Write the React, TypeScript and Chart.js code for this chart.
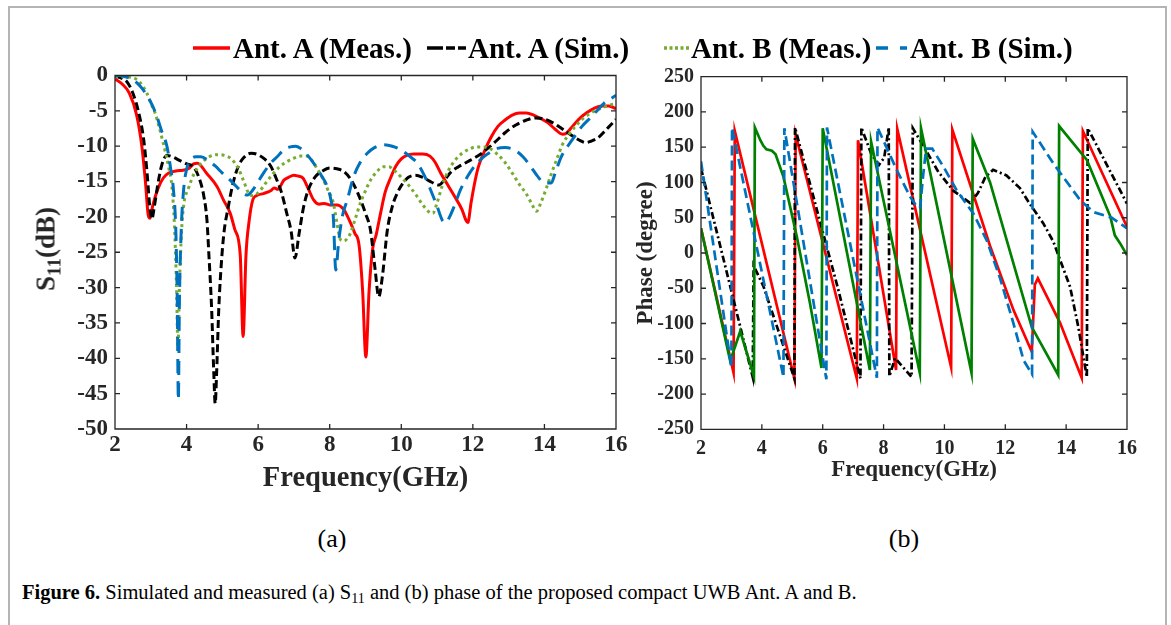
import React, { useEffect, useRef } from 'react';
import { Chart, registerables } from 'chart.js';

Chart.register(...registerables);

// ---------- tick labels ----------
const FREQ_TICKS = [2, 4, 6, 8, 10, 12, 14, 16];
const S11_TICKS = [0, -5, -10, -15, -20, -25, -30, -35, -40, -45, -50];
const PHASE_TICKS = [250, 200, 150, 100, 50, 0, -50, -100, -150, -200, -250];

const LEGEND_LABELS = ['Ant. A (Meas.)', 'Ant. A (Sim.)', 'Ant. B (Meas.)', 'Ant. B (Sim.)'];

// ---------- (a) S11 data ----------
const antAMeasS11Freq = [2.0, 2.2, 2.4, 2.6, 2.75, 2.85, 2.93, 2.98, 3.05, 3.2, 3.35, 3.5, 3.7, 3.9, 4.05, 4.2, 4.3, 4.57, 4.85, 5.03, 5.22, 5.35, 5.5, 5.58, 5.66, 5.75, 5.85, 5.95, 6.15, 6.35, 6.45, 6.55, 6.72, 6.85, 7.0, 7.1, 7.25, 7.4, 7.55, 7.7, 7.85, 8.0, 8.2, 8.4, 8.55, 8.7, 8.82, 8.92, 9.01, 9.1, 9.2, 9.3, 9.42, 9.55, 9.7, 9.85, 10.0, 10.15, 10.35, 10.6, 10.8, 10.95, 11.1, 11.3, 11.5, 11.7, 11.8, 11.86, 11.95, 12.05, 12.15, 12.3, 12.5, 12.7, 12.9, 13.1, 13.3, 13.5, 13.7, 13.9, 14.1, 14.3, 14.5, 14.6, 14.8, 15.0, 15.2, 15.4, 15.6, 15.8, 16.0];
const antAMeasS11 = [-0.5, -1.2, -2.5, -5.5, -10, -15, -19.8, -20.2, -18.5, -16, -14.5, -13.8, -13.5, -13.4, -13.2, -12.5, -12.4, -13.9, -15.7, -17.6, -19.5, -21.8, -25.4, -36.9, -25.4, -20.5, -17.6, -17.0, -16.7, -16.3, -15.9, -16.1, -14.8, -14.4, -14.1, -14.2, -14.5, -16.0, -17.6, -18.2, -18.1, -18.3, -18.3, -19.0, -20.5, -22.3, -24.0, -30.5, -39.8, -30.5, -24.5, -22.5, -19.5, -16.5, -14.5, -12.8, -11.8, -11.3, -11.1, -11.1, -11.4, -12.3, -13.8, -15.5, -17.2, -19.0, -20.4, -20.8, -18.0, -15.2, -13.0, -11.0, -8.8, -7.2, -6.3, -5.6, -5.3, -5.3, -5.6, -6.1, -6.7, -7.6, -8.3, -8.2, -7.1, -6.0, -5.2, -4.6, -4.3, -4.3, -4.7];

const antASimS11Freq = [2.0, 2.2, 2.35, 2.5, 2.65, 2.8, 2.9, 2.97, 3.03, 3.1, 3.2, 3.3, 3.45, 3.6, 3.8, 4.0, 4.19, 4.35, 4.48, 4.57, 4.62, 4.7, 4.76, 4.8, 4.84, 4.9, 4.98, 5.05, 5.15, 5.3, 5.45, 5.6, 5.8, 5.95, 6.15, 6.35, 6.5, 6.65, 6.8, 6.92, 7.03, 7.14, 7.27, 7.4, 7.6, 7.8, 8.0, 8.2, 8.4, 8.6, 8.8, 9.0, 9.14, 9.27, 9.37, 9.47, 9.61, 9.75, 9.9, 10.05, 10.2, 10.4, 10.6, 10.85, 11.05, 11.2, 11.4, 11.6, 11.85, 12.1, 12.3, 12.6, 12.9, 13.2, 13.5, 13.75, 13.95, 14.2, 14.4, 14.6, 14.8, 15.0, 15.15, 15.3, 15.5, 15.7, 15.85, 16.0];
const antASimS11 = [-0.1, -0.4, -1.0, -2.5, -5.0, -9.0, -14.0, -18.5, -20.3, -18.5, -15.3, -12.8, -11.3, -11.5, -12.0, -12.5, -12.9, -14.5, -17.0, -20.5, -25.0, -33.0, -42.0, -46.4, -42.0, -33.0, -26.0, -22.0, -19.0, -15.2, -12.8, -11.6, -11.0, -11.1, -11.7, -12.8, -14.5, -16.5, -19.5, -22.0, -25.8, -22.5, -18.6, -16.2, -14.3, -13.5, -13.1, -13.2, -13.6, -14.8, -16.8, -19.5, -21.9, -27.5, -31.3, -28.5, -21.9, -18.5, -16.5, -15.2, -14.4, -14.1, -14.4, -15.1, -15.5, -14.8, -13.6, -12.9, -12.2, -11.5, -10.8, -9.5, -8.1, -7.0, -6.3, -6.0, -6.1, -6.6, -7.2, -7.9, -8.6, -9.2, -9.5, -9.3, -8.8, -7.8, -7.0, -6.2];

const antBMeasS11Freq = [2.0, 2.3, 2.5, 2.7, 2.89, 3.05, 3.12, 3.25, 3.35, 3.5, 3.59, 3.66, 3.72, 3.76, 3.8, 3.86, 3.93, 4.05, 4.2, 4.38, 4.6, 4.85, 5.05, 5.25, 5.45, 5.6, 5.75, 5.85, 6.0, 6.2, 6.4, 6.6, 6.8, 7.0, 7.2, 7.35, 7.5, 7.65, 7.8, 7.95, 8.1, 8.2, 8.3, 8.4, 8.5, 8.58, 8.7, 8.86, 9.0, 9.14, 9.3, 9.5, 9.65, 9.8, 10.0, 10.2, 10.4, 10.6, 10.8, 10.88, 11.0, 11.15, 11.3, 11.5, 11.7, 11.9, 12.1, 12.3, 12.5, 12.7, 12.9, 13.1, 13.3, 13.5, 13.65, 13.78, 13.9, 14.05, 14.2, 14.37, 14.5, 14.7, 14.9, 15.1, 15.3, 15.5, 15.7, 15.9, 16.0];
const antBMeasS11 = [-0.1, -0.2, -0.3, -1.0, -2.5, -4.5, -5.3, -7.6, -9.6, -13.0, -15.7, -21.0, -30.0, -38.8, -30.0, -22.0, -18.0, -16.0, -14.0, -12.6, -11.6, -11.2, -11.3, -11.8, -13.2, -15.0, -16.8, -17.0, -16.6, -15.3, -14.0, -12.9, -12.2, -11.7, -11.4, -11.4, -12.0, -13.2, -14.5, -16.2, -18.0, -20.8, -23.2, -23.4, -23.0, -22.3, -20.5, -18.0, -16.3, -14.8, -13.7, -12.9, -12.9, -13.4, -14.4, -15.5, -16.8, -18.3, -19.4, -19.5, -18.0, -15.5, -13.6, -12.0, -11.0, -10.4, -10.1, -10.1, -10.4, -11.2, -12.3, -13.8, -15.4, -16.8, -18.2, -19.2, -18.0, -16.0, -13.8, -11.5, -9.8, -8.2, -7.0, -6.0, -5.3, -4.8, -4.4, -4.1, -4.0];

const antBSimS11Freq = [2.0, 2.14, 2.3, 2.5, 2.7, 2.89, 3.05, 3.17, 3.3, 3.45, 3.55, 3.63, 3.7, 3.74, 3.77, 3.8, 3.85, 3.92, 4.0, 4.1, 4.25, 4.4, 4.6, 4.8, 5.0, 5.22, 5.45, 5.6, 5.7, 5.85, 6.0, 6.15, 6.35, 6.53, 6.7, 6.9, 7.05, 7.18, 7.35, 7.55, 7.75, 7.93, 8.03, 8.1, 8.17, 8.25, 8.35, 8.49, 8.67, 8.85, 9.05, 9.25, 9.5, 9.75, 9.98, 10.2, 10.45, 10.65, 10.82, 11.0, 11.15, 11.25, 11.35, 11.47, 11.65, 11.85, 12.05, 12.3, 12.5, 12.69, 12.9, 13.15, 13.4, 13.62, 13.8, 14.0, 14.19, 14.3, 14.47, 14.65, 14.83, 15.05, 15.3, 15.5, 15.67, 15.85, 16.0];
const antBSimS11 = [0.0, 0.0, -0.2, -0.6, -1.5, -2.8, -4.3, -5.8, -7.8, -10.0, -13.0, -16.0, -22.0, -32.0, -45.9, -32.0, -22.0, -16.0, -13.3, -12.0, -11.5, -11.5, -12.0, -12.8, -13.8, -14.8, -16.0, -16.7, -16.9, -16.2, -15.0, -13.8, -12.4, -11.5, -10.6, -10.1, -10.0, -10.3, -11.1, -12.4, -14.0, -15.7, -17.5, -20.0, -27.5, -23.5, -20.0, -17.6, -14.3, -12.3, -11.0, -10.2, -9.8, -10.0, -10.5, -11.3, -12.4, -14.2, -16.2, -18.5, -20.5, -20.8, -20.0, -18.6, -16.2, -14.3, -12.8, -11.5, -10.8, -10.3, -10.2, -10.5, -11.5, -12.9, -14.2, -15.2, -15.2, -13.8, -11.5, -10.0, -8.7, -7.2, -5.9, -4.8, -3.9, -3.3, -2.8];

// ---------- (b) phase data ----------
const antAMeasPhaseFreq = [2.0, 3.07, 3.11, 5.07, 5.11, 7.12, 7.16, 8.41, 8.45, 10.22, 10.26, 11.5, 12.27, 12.87, 12.97, 13.07, 13.8, 14.51, 14.55, 16.0];
const antAMeasPhase = [35, -170, 173, -178, 168, -178, 160, -166, 176, -162, 175, 10, -81, -140, -45, -36, -99, -177, 173, 37];

const antASimPhaseFreq = [2.0, 3.7, 3.73, 4.05, 5.07, 5.09, 5.81, 6.5, 7.24, 7.27, 7.6, 7.85, 8.02, 8.17, 8.19, 8.38, 8.92, 8.96, 9.4, 9.8, 10.3, 10.84, 11.1, 11.35, 11.6, 12.04, 12.48, 12.8, 13.25, 13.58, 14.13, 14.4, 14.68, 14.71, 16.0];
const antASimPhase = [120, -176, -18, -47, -178, 178, 61, -50, -178, 178, 140, 125, 135, 178, -175, -149, -176, 177, 145, 115, 88, 71, 85, 108, 118, 110, 92, 70, 42, 16, -48, -105, -176, 177, 70];

const antBMeasPhaseFreq = [2.0, 2.96, 3.29, 3.74, 3.77, 3.95, 4.05, 4.15, 4.33, 4.45, 4.71, 5.15, 5.58, 5.96, 6.0, 7.55, 7.59, 9.19, 9.23, 10.89, 10.93, 11.5, 12.87, 13.74, 13.77, 14.68, 15.45, 15.6, 15.77, 16.0];
const antBMeasPhase = [35, -153, -111, -175, 178, 160, 152, 147, 145, 140, 108, 23, -71, -163, 177, -166, 158, -170, 177, -170, 162, 100, -105, -173, 180, 132, 52, 25, 14, -3];

const antBSimPhaseFreq = [2.0, 3.0, 3.02, 4.71, 4.74, 6.12, 6.14, 7.78, 7.8, 8.43, 8.87, 9.1, 9.2, 9.3, 9.4, 9.6, 10.0, 10.4, 10.95, 11.39, 11.83, 12.27, 12.6, 12.88, 12.9, 13.58, 14.46, 14.9, 15.5, 16.0];
const antBSimPhase = [130, -162, 178, -176, 177, -179, 178, -177, 178, 118, 80, 65, 64, 110, 148, 148, 120, 89, 56, 18, -36, -100, -152, -172, 172, 127, 75, 58, 50, 35];

// ---------- styles ----------
const AXIS_COLOR = '#262626';
const RED = '#FF0000';
const BLACK = '#000000';
const GREEN_A = '#77AC30';
const GREEN_B = '#008000';
const BLUE = '#0072BD';
const SERIF = "'Liberation Serif', 'Times New Roman', serif";

const pts = (fs: number[], vs: number[]) => fs.map((f, i) => ({ x: f, y: vs[i] }));

const framePlugin = {
  id: 'matlabFrame',
  afterDatasetsDraw(chart: any, _args: any, opts: any) {
    const { ctx, chartArea: a, scales } = chart;
    const len = opts.tickLen ?? 5;
    ctx.save();
    ctx.strokeStyle = AXIS_COLOR;
    ctx.lineWidth = opts.lineWidth ?? 1.3;
    ctx.beginPath();
    ctx.rect(a.left, a.top, a.right - a.left, a.bottom - a.top);
    scales.x.ticks.forEach((t: any) => {
      const px = scales.x.getPixelForValue(t.value);
      ctx.moveTo(px, a.bottom);
      ctx.lineTo(px, a.bottom - len);
      ctx.moveTo(px, a.top);
      ctx.lineTo(px, a.top + len);
    });
    scales.y.ticks.forEach((t: any) => {
      const py = scales.y.getPixelForValue(t.value);
      ctx.moveTo(a.left, py);
      ctx.lineTo(a.left + len, py);
      ctx.moveTo(a.right, py);
      ctx.lineTo(a.right - len, py);
    });
    ctx.stroke();
    ctx.restore();
  },
};

function makeScales(opts: {
  yMin: number; yMax: number; yTicks: number[]; yWidth: number; xHeight: number;
  tickFont: number; xTitleFont: number; xTitlePad: number; xTickPad: number; yTickPad: number;
  yTitle?: string; yTitleFont?: number; yTitlePad?: number;
}) {
  return {
    x: {
      type: 'linear',
      min: 2,
      max: 16,
      afterBuildTicks: (s: any) => { s.ticks = FREQ_TICKS.map((v) => ({ value: v })); },
      afterFit: (s: any) => { s.height = opts.xHeight; },
      grid: { display: false, drawTicks: false },
      border: { display: false },
      ticks: { font: { family: SERIF, size: opts.tickFont, weight: 'bold' }, color: AXIS_COLOR, padding: opts.xTickPad, maxRotation: 0, autoSkip: false },
      title: { display: true, text: 'Frequency(GHz)', color: AXIS_COLOR, font: { family: SERIF, size: opts.xTitleFont, weight: 'bold' }, padding: { top: 0, bottom: opts.xTitlePad } },
    },
    y: {
      type: 'linear',
      min: opts.yMin,
      max: opts.yMax,
      afterBuildTicks: (s: any) => { s.ticks = opts.yTicks.map((v) => ({ value: v })); },
      afterFit: (s: any) => { s.width = opts.yWidth; },
      grid: { display: false, drawTicks: false },
      border: { display: false },
      ticks: { font: { family: SERIF, size: opts.tickFont, weight: 'bold' }, color: AXIS_COLOR, padding: opts.yTickPad, autoSkip: false },
      title: opts.yTitle
        ? { display: true, text: opts.yTitle, color: AXIS_COLOR, font: { family: SERIF, size: opts.yTitleFont, weight: 'bold' }, padding: { top: opts.yTitlePad, bottom: 0 } }
        : { display: false },
    },
  };
}

function S11Chart() {
  const ref = useRef<HTMLCanvasElement | null>(null);
  useEffect(() => {
    if (!ref.current) return;
    const common = { pointRadius: 0, borderWidth: 3, fill: false, cubicInterpolationMode: 'monotone' as const, tension: 0.4 };
    const chart = new Chart(ref.current, {
      type: 'line',
      data: {
        datasets: [
          { ...common, label: LEGEND_LABELS[0], data: pts(antAMeasS11Freq, antAMeasS11), borderColor: RED, order: 4 },
          { ...common, label: LEGEND_LABELS[1], data: pts(antASimS11Freq, antASimS11), borderColor: BLACK, borderDash: [8, 4], order: 3 },
          { ...common, label: LEGEND_LABELS[2], data: pts(antBMeasS11Freq, antBMeasS11), borderColor: GREEN_A, borderDash: [3, 3.5], order: 2 },
          { ...common, label: LEGEND_LABELS[3], data: pts(antBSimS11Freq, antBSimS11), borderColor: BLUE, borderDash: [14, 8], order: 1 },
        ],
      },
      options: {
        animation: false,
        responsive: false,
        maintainAspectRatio: false,
        events: [],
        layout: { padding: { top: 75.5, right: 24, left: 0, bottom: 0 } },
        plugins: { legend: { display: false }, tooltip: { enabled: false }, matlabFrame: { tickLen: 5, lineWidth: 1.3 } } as any,
        scales: makeScales({ yMin: -50, yMax: 0, yTicks: S11_TICKS, yWidth: 115, xHeight: 71, tickFont: 23, xTitleFont: 28.5, xTitlePad: 4, xTickPad: 2, yTickPad: 7 }) as any,
      },
      plugins: [framePlugin],
    });
    return () => chart.destroy();
  }, []);
  return <canvas ref={ref} width={640} height={500} style={{ position: 'absolute', left: 0, top: 0, width: 640, height: 500 }} />;
}

function PhaseChart() {
  const ref = useRef<HTMLCanvasElement | null>(null);
  useEffect(() => {
    if (!ref.current) return;
    const common = { pointRadius: 0, borderWidth: 2.7, fill: false, tension: 0 };
    const chart = new Chart(ref.current, {
      type: 'line',
      data: {
        datasets: [
          { ...common, label: LEGEND_LABELS[0], data: pts(antAMeasPhaseFreq, antAMeasPhase), borderColor: RED, order: 4 },
          { ...common, label: LEGEND_LABELS[1], data: pts(antASimPhaseFreq, antASimPhase), borderColor: BLACK, borderDash: [7, 3, 2, 3], order: 3 },
          { ...common, label: LEGEND_LABELS[2], data: pts(antBMeasPhaseFreq, antBMeasPhase), borderColor: GREEN_B, order: 2 },
          { ...common, label: LEGEND_LABELS[3], data: pts(antBSimPhaseFreq, antBSimPhase), borderColor: BLUE, borderDash: [10, 5], order: 1 },
        ],
      },
      options: {
        animation: false,
        responsive: false,
        maintainAspectRatio: false,
        events: [],
        layout: { padding: { top: 76.7, right: 44, left: 0, bottom: 0 } },
        plugins: { legend: { display: false }, tooltip: { enabled: false }, matlabFrame: { tickLen: 5, lineWidth: 1.3 } } as any,
        scales: makeScales({ yMin: -250, yMax: 250, yTicks: PHASE_TICKS, yWidth: 71, xHeight: 70.7, tickFont: 20, xTitleFont: 23, xTitlePad: 16, xTickPad: 7.5, yTickPad: 7, yTitle: 'Phase (degree)', yTitleFont: 23, yTitlePad: 2 }) as any,
      },
      plugins: [framePlugin],
    });
    return () => chart.destroy();
  }, []);
  return <canvas ref={ref} width={541} height={500} style={{ position: 'absolute', left: 630, top: 0, width: 541, height: 500 }} />;
}

function LegendSample({ x1, x2, y, color, dash }: { x1: number; x2: number; y: number; color: string; dash?: string }) {
  return (
    <svg width={x2 - x1 + 2} height={10} style={{ position: 'absolute', left: x1 - 1, top: y - 5 }}>
      <line x1={1} y1={5} x2={x2 - x1 + 1} y2={5} stroke={color} strokeWidth={3.6} strokeDasharray={dash} />
    </svg>
  );
}

const legendText: React.CSSProperties = {
  position: 'absolute', top: 33.8, fontFamily: SERIF, fontWeight: 'bold', fontSize: 29, lineHeight: '29px', color: '#000', whiteSpace: 'nowrap',
};

export default function App() {
  return (
    <div style={{ position: 'absolute', left: 0, top: 0, width: 1171, height: 625, background: '#fff', overflow: 'hidden', fontFamily: SERIF }}>
      <div style={{ position: 'absolute', left: 8, top: 6, width: 1155, height: 700, border: '2px solid #b4b4b4' }} />
      <S11Chart />
      <PhaseChart />
      {/* legend */}
      <LegendSample x1={193} x2={230} y={47.5} color={RED} />
      <div style={{ ...legendText, left: 233 }}>{LEGEND_LABELS[0]}</div>
      <LegendSample x1={427} x2={466} y={47.5} color={BLACK} dash="16,3,9,3,8" />
      <div style={{ ...legendText, left: 468 }}>{LEGEND_LABELS[1]}</div>
      <LegendSample x1={664} x2={689} y={47.5} color={GREEN_A} dash="3,2.5" />
      <div style={{ ...legendText, left: 691 }}>{LEGEND_LABELS[2]}</div>
      <LegendSample x1={876} x2={907} y={47.5} color={BLUE} dash="12,12,7" />
      <div style={{ ...legendText, left: 910 }}>{LEGEND_LABELS[3]}</div>
      {/* y title of (a) */}
      <div style={{ position: 'absolute', left: 46, top: 249, transform: 'translate(-50%, -50%) rotate(-90deg)', fontFamily: SERIF, fontWeight: 'bold', fontSize: 27, lineHeight: '27px', color: AXIS_COLOR, whiteSpace: 'nowrap' }}>
        S<sub style={{ fontSize: 19, verticalAlign: '-6px', lineHeight: 0 }}>11</sub>(dB)
      </div>
      {/* sub captions */}
      <div style={{ position: 'absolute', left: 282, width: 100, top: 526, textAlign: 'center', fontSize: 26, lineHeight: '26px', color: '#000' }}>(a)</div>
      <div style={{ position: 'absolute', left: 854, width: 100, top: 526, textAlign: 'center', fontSize: 26, lineHeight: '26px', color: '#000' }}>(b)</div>
      {/* figure caption */}
      <div style={{ position: 'absolute', left: 22, top: 582, fontSize: 20.5, lineHeight: '20.5px', color: '#000', whiteSpace: 'nowrap' }}>
        <b>Figure 6.</b> Simulated and measured (a) S<sub style={{ fontSize: 14, verticalAlign: '-4px', lineHeight: 0 }}>11</sub> and (b) phase of the proposed compact UWB Ant. A and B.
      </div>
    </div>
  );
}
